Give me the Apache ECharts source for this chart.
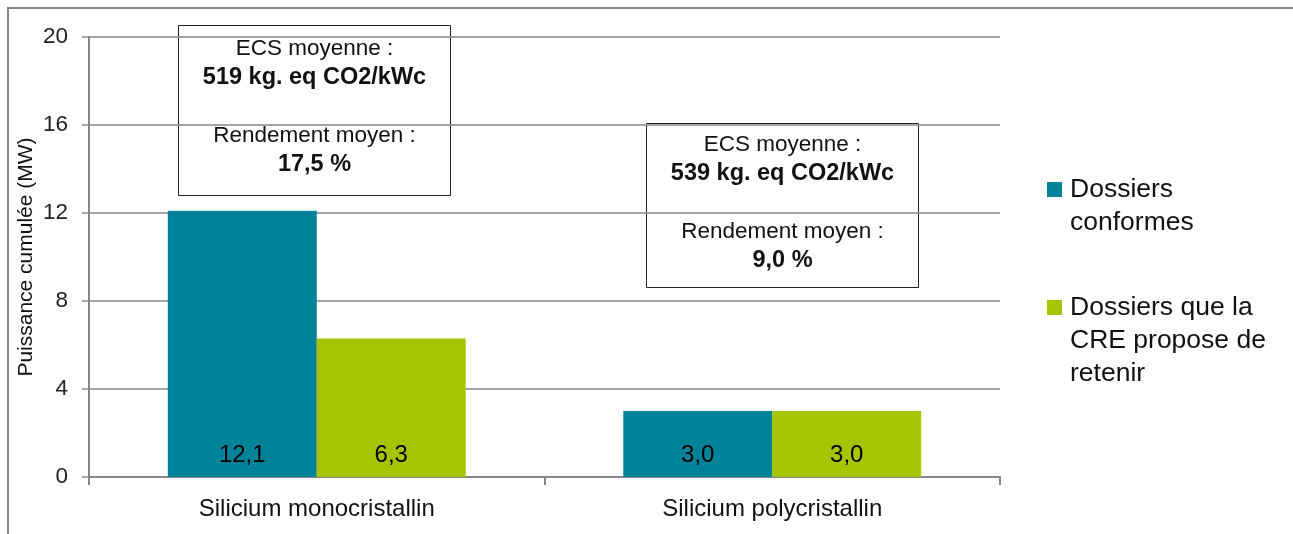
<!DOCTYPE html>
<html>
<head>
<meta charset="utf-8">
<script src="https://cdn.jsdelivr.net/npm/echarts@6/dist/echarts.min.js"></script>
<style>
html,body{margin:0;padding:0;background:#fff;}
#chart{width:1293px;height:534px;}
</style>
</head>
<body>
<div id="chart"></div>
<script>
const categories = ['Silicium monocristallin', 'Silicium polycristallin'];
const seriesNames = ['Dossiers conformes', 'Dossiers que la CRE propose de retenir'];
const legendLabels = ['Dossiers\nconformes', 'Dossiers que la\nCRE propose de\nretenir'];
const conformes = [12.1, 3.0];
const retenus = [6.3, 3.0];
const yMin = 0, yMax = 20, yInterval = 4;
const yAxisName = 'Puissance cumulée (MW)';
const annotations = [
  { ecs: '519 kg. eq CO2/kWc', rendement: '17,5 %' },
  { ecs: '539 kg. eq CO2/kWc', rendement: '9,0 %' }
];

const FONT = 'Liberation Sans, Arial, sans-serif';
const GRAY = '#868686';
const TEAL = '#008299';
const GREEN = '#A6C400';

const fmt = v => v.toFixed(1).replace('.', ',');

function annotationText(a) {
  return '{n|ECS moyenne :}\n{b|' + a.ecs + '}\n{n| }\n{n|Rendement moyen :}\n{b|' + a.rendement + '}';
}
const rich = {
  n: { fontSize: 22.5, lineHeight: 29, fontFamily: FONT, fill: '#111', color: '#111' },
  b: { fontSize: 23.5, lineHeight: 29, fontWeight: 'bold', fontFamily: FONT, fill: '#111', color: '#111' }
};
const boxes = [
  { x: 178.5, y: 25.5, w: 272, h: 170, cy: 107 },
  { x: 646.5, y: 123.5, w: 272, h: 164, cy: 203 }
];

function prependBlank(text) {
  const n = text.split('\n').length;
  return '\n'.repeat(n - 1) + text;
}

const chart = echarts.init(document.getElementById('chart'), null, { renderer: 'canvas' });
const barLabel = {
  show: true,
  position: 'insideBottom',
  distance: 10,
  fontSize: 24,
  fontFamily: FONT,
  color: '#000',
  formatter: p => fmt(p.value)
};

chart.setOption({
  animation: false,
  backgroundColor: '#fff',
  textStyle: { fontFamily: FONT },
  grid: { left: 89, right: 293, top: 37, bottom: 57, containLabel: false },
  legend: [0, 1].map(i => ({
    data: [seriesNames[i]],
    orient: 'vertical',
    left: 1047,
    top: i === 0 ? 140 : 225,
    padding: 0,
    itemWidth: 15,
    itemHeight: 15,
    icon: 'rect',
    selectedMode: false,
    formatter: () => prependBlank(legendLabels[i]),
    textStyle: { fontSize: 26.5, lineHeight: 33, color: '#111', fontFamily: FONT, padding: [0, 0, 0, 3] }
  })),
  xAxis: {
    type: 'category',
    data: categories,
    axisLine: { lineStyle: { color: GRAY, width: 2 } },
    axisTick: { show: true, length: 8, lineStyle: { color: GRAY, width: 2 } },
    axisLabel: { fontSize: 24, color: '#111', margin: 20, fontFamily: FONT }
  },
  yAxis: {
    type: 'value',
    min: yMin,
    max: yMax,
    interval: yInterval,
    name: yAxisName,
    nameLocation: 'middle',
    nameRotate: 90,
    nameGap: 52,
    nameMoveOverlap: false,
    nameTextStyle: { fontSize: 21, color: '#111', fontFamily: FONT },
    axisLine: { show: true, lineStyle: { color: GRAY, width: 2 } },
    axisTick: { show: true, length: 7, lineStyle: { color: GRAY, width: 1.5 } },
    axisLabel: { fontSize: 22.5, color: '#222', margin: 21, fontFamily: FONT },
    splitLine: { show: true, lineStyle: { color: GRAY, width: 1.5 } }
  },
  series: [
    {
      name: seriesNames[0], type: 'bar', data: conformes,
      barGap: '0%', barCategoryGap: '34.6%',
      itemStyle: { color: TEAL },
      label: barLabel
    },
    {
      name: seriesNames[1], type: 'bar', data: retenus,
      barGap: '0%', barCategoryGap: '34.6%',
      itemStyle: { color: GREEN },
      label: barLabel
    }
  ],
  graphic: [
    {
      type: 'rect', z: 0, silent: true,
      shape: { x: 8, y: 8, width: 1400, height: 700 },
      style: { fill: 'none', stroke: GRAY, lineWidth: 2 }
    }
  ].concat(boxes.map((b, i) => ({
    type: 'group', z: 100, silent: true,
    children: [
      { type: 'rect', shape: { x: b.x, y: b.y, width: b.w, height: b.h },
        style: { fill: '#fff', stroke: '#222', lineWidth: 1 } },
      { type: 'text',
        style: { x: b.x + b.w / 2, y: b.cy, text: annotationText(annotations[i]),
                 rich: rich, align: 'center', verticalAlign: 'middle',
                 fontFamily: FONT, fontSize: 22, fill: '#111' } }
    ]
  })))
});
</script>
</body>
</html>
